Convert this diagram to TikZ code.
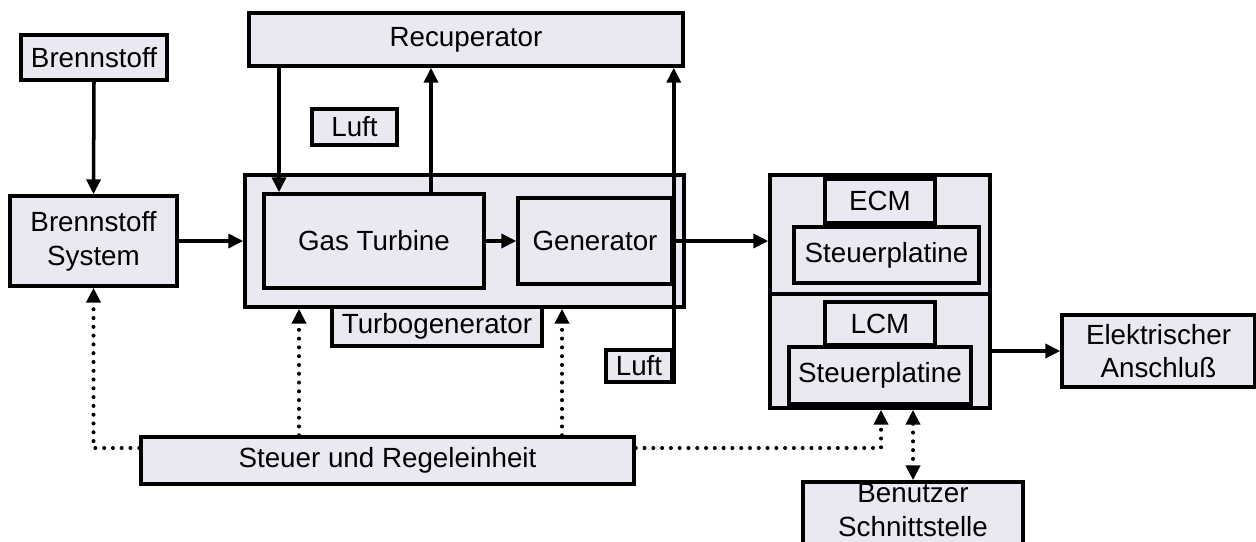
\documentclass[tikz,border=0pt]{standalone}
\usepackage{fontspec}
\setmainfont{Liberation Sans}
\usetikzlibrary{arrows.meta}
\definecolor{boxfill}{RGB}{234,233,242}
\newcommand\lbl{\fontsize{15.8}{19.2}\selectfont}
\tikzset{
  box/.style={draw, line width=2pt, fill=boxfill, inner sep=0pt, font=\lbl, align=center},
  sz/.style 2 args={minimum width=#1*0.02cm, minimum height=#2*0.02cm},
  arr/.style={line width=2pt, -{Triangle[length=8.5pt,width=8pt]}},
  dotline/.style={line width=2.3pt, line cap=round, dash pattern=on 0pt off 5pt,
                  -{Triangle[length=8.5pt,width=8pt]}},
  dotboth/.style={line width=2.3pt, line cap=round, dash pattern=on 0pt off 5pt,
                  {Triangle[length=8.5pt,width=8pt]}-{Triangle[length=8.5pt,width=8pt]}}
}
\begin{document}
\begin{tikzpicture}[x=0.02cm,y=-0.02cm]
\useasboundingbox (0,0) rectangle (1256,541);

% helper positions for the vertical connectors
\coordinate (xa) at (279,0);
\coordinate (xb) at (431,0);
\coordinate (xc) at (299,0);
\coordinate (xd) at (562,0);
\coordinate (xe) at (881,0);
\coordinate (xf) at (913,0);
\coordinate (yd) at (0,448);
\coordinate (ydiv) at (0,294);

% boxes (centre, width, height in pixel units)
\node[box, sz={146}{45}] (brenn) at (94,57.5) {Brennstoff};
\node[box, sz={434}{53}] (recup) at (466,39.5) {Recuperator};
\node[box, sz={85}{36}] (luft1) at (354.5,127) {Luft};
\node[box, sz={167}{90}] (bsys) at (93.5,241) {Brennstoff\\System};
\node[box, sz={439}{132}] (turbo) at (464.5,241) {};
\node[box, sz={220}{94}] (gasT) at (374,241) {Gas Turbine};
\node[box, sz={154}{86}] (gen) at (595,241) {Generator};
\node[box, sz={210}{39}] (tglabel) at (437,326.5) {Turbogenerator};
\node[box, sz={66}{32}] (luft2) at (639,366) {Luft};

\node[box, sz={220}{233}] (ctrl) at (880,291.5) {};
\draw[line width=2pt] (ctrl.west |- ydiv) -- (ctrl.east |- ydiv);
\node[box, sz={110}{44}] (ecm) at (880,201) {ECM};
\node[box, sz={185}{56}] (sp1) at (886.5,255) {Steuerplatine};
\node[box, sz={110}{43}] (lcm) at (880,323.5) {LCM};
\node[box, sz={182}{57}] (sp2) at (880,375.5) {Steuerplatine};

\node[box, sz={193}{72}] (elek) at (1158.5,351) {Elektrischer\\Anschlu\ss};
% interface box runs past the lower edge of the page
\node[box, sz={220}{64}] (user) at (913,514) {};
\node[font=\lbl, align=center, inner sep=0pt] (usertext) at (913,510) {Benutzer\\Schnittstelle};
\node[box, sz={493}{47}] (steuer) at (387.5,460.5) {Steuer und Regeleinheit};

% material and energy flows
\draw[arr] (brenn.south) -- (bsys.north);
\draw[arr] (bsys.east) -- (turbo.west |- bsys.east);
\draw[arr] (recup.south -| xa) -- (gasT.north -| xa);
\draw[arr] (gasT.north -| xb) -- (recup.south -| xb);
\draw[arr] (luft2.south east) -- (recup.south -| luft2.east);
\draw[arr] (gasT.east) -- (gen.west |- gasT.east);
\draw[arr] (gen.east) -- (ctrl.west |- gen.east);
\draw[arr] (ctrl.east |- elek.west) -- (elek.west);

% control signals
\draw[dotline] (steuer.west |- yd) -| (bsys.south);
\draw[dotline] (steuer.north -| xc) -- (turbo.south -| xc);
\draw[dotline] (steuer.north -| xd) -- (turbo.south -| xd);
\draw[dotline] (steuer.east |- yd) -| (ctrl.south -| xe);
\draw[dotboth] (ctrl.south -| xf) -- (user.north -| xf);
\end{tikzpicture}
\end{document}
